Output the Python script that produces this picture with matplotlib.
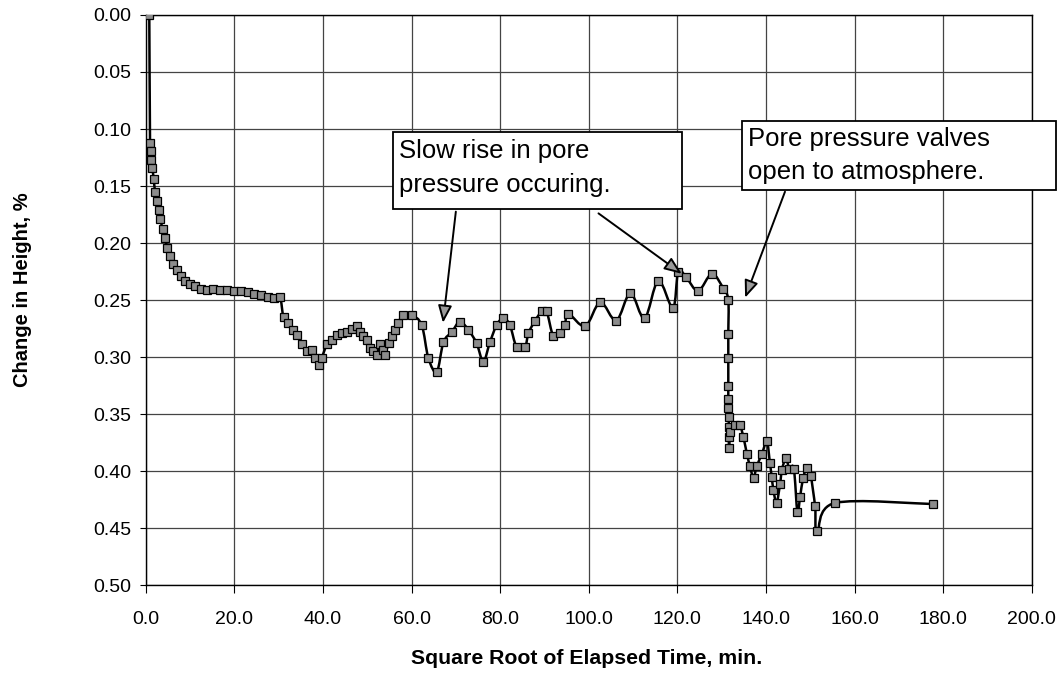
"""
Consolidation plot: change in specimen height against square root of time.
"""

import numpy as np
import matplotlib
matplotlib.use("Agg")
import matplotlib.pyplot as plt
from matplotlib.path import Path
from matplotlib.patches import PathPatch, Rectangle

plt.rcParams["font.family"] = ["Liberation Sans", "DejaVu Sans"]

# Readings taken off the original chart (sqrt of minutes, % change in height)
sqrt_time = [
    0.8, 0.97, 1.1, 1.3, 1.5, 1.8, 2.1, 2.5, 2.9, 3.3, 3.8, 4.3, 4.9, 5.5,
    6.2, 7.0, 7.9, 8.9, 10.0, 11.1, 12.4, 13.8, 15.2, 16.8, 18.4, 20.0, 21.5,
    23.0, 24.5, 26.0, 27.5, 29.0, 30.3, 31.1, 32.2, 33.3, 34.1, 35.2, 36.3,
    37.5, 38.2, 39.0, 39.7, 40.9, 42.0, 43.1, 44.2, 45.4, 46.5, 47.6, 48.4,
    49.1, 49.9, 50.6, 51.4, 52.1, 52.9, 53.6, 54.0, 54.8, 55.5, 56.3, 57.0,
    58.1, 60.0, 62.3, 63.8, 65.7, 67.2, 69.1, 70.9, 72.8, 74.7, 76.2, 77.7,
    79.2, 80.7, 82.2, 83.7, 85.6, 86.4, 87.9, 89.4, 90.5, 92.0, 93.5, 94.6,
    95.4, 99.2, 102.6, 106.2, 109.4, 112.6, 115.7, 119.0, 120.2, 122.0,
    124.7, 127.8, 130.4, 131.5, 131.5, 131.5, 131.5, 131.5, 131.5, 131.6,
    131.6, 131.6, 131.7, 131.9, 133.0, 134.1, 134.9, 135.7, 136.4, 137.2,
    137.9, 139.1, 140.2, 140.9, 141.3, 141.7, 142.4, 143.2, 143.6, 144.5,
    145.3, 146.3, 147.1, 147.7, 148.4, 149.3, 150.1, 151.1, 151.6, 155.6,
    177.8,
]
height_change = [
    0.000, 0.112, 0.119, 0.127, 0.134, 0.144, 0.155, 0.163, 0.171, 0.179,
    0.188, 0.196, 0.204, 0.211, 0.218, 0.224, 0.229, 0.233, 0.236, 0.238,
    0.240, 0.241, 0.240, 0.241, 0.241, 0.242, 0.242, 0.243, 0.245, 0.246,
    0.247, 0.248, 0.247, 0.265, 0.270, 0.276, 0.281, 0.289, 0.295, 0.294,
    0.301, 0.307, 0.301, 0.289, 0.285, 0.281, 0.279, 0.278, 0.275, 0.273,
    0.278, 0.282, 0.285, 0.292, 0.295, 0.298, 0.289, 0.294, 0.298, 0.288,
    0.282, 0.276, 0.270, 0.263, 0.263, 0.272, 0.301, 0.313, 0.287, 0.278,
    0.269, 0.276, 0.288, 0.304, 0.287, 0.272, 0.266, 0.272, 0.291, 0.291,
    0.279, 0.268, 0.260, 0.260, 0.282, 0.279, 0.272, 0.262, 0.273, 0.252,
    0.268, 0.244, 0.266, 0.233, 0.257, 0.225, 0.230, 0.242, 0.227, 0.240,
    0.250, 0.280, 0.301, 0.325, 0.337, 0.345, 0.353, 0.361, 0.370, 0.380,
    0.366, 0.360, 0.360, 0.370, 0.385, 0.396, 0.406, 0.396, 0.385, 0.374,
    0.393, 0.405, 0.417, 0.428, 0.411, 0.399, 0.389, 0.398, 0.398, 0.436,
    0.423, 0.406, 0.397, 0.404, 0.431, 0.453, 0.428, 0.429,
]

x_ticks = [0, 20, 40, 60, 80, 100, 120, 140, 160, 180, 200]
y_ticks = [0.00, 0.05, 0.10, 0.15, 0.20, 0.25, 0.30, 0.35, 0.40, 0.45, 0.50]

note_rise = ["Slow rise in pore", "pressure occuring."]
note_valves = ["Pore pressure valves", "open to atmosphere."]


def smooth_path(xs, ys):
    """Bezier path through the points, like Excel's smoothed line."""
    pts = np.column_stack([xs, ys]).astype(float)
    n = len(pts)
    verts = [pts[0]]
    codes = [Path.MOVETO]
    for i in range(n - 1):
        p0 = pts[i - 1] if i > 0 else pts[i]
        p1 = pts[i]
        p2 = pts[i + 1]
        p3 = pts[i + 2] if i + 2 < n else pts[i + 1]
        c1 = p1 + (p2 - p0) / 6.0
        c2 = p2 - (p3 - p1) / 6.0
        verts += [c1, c2, p2]
        codes += [Path.CURVE4] * 3
    return Path(verts, codes)


fig = plt.figure(figsize=(10.63, 6.88), dpi=100)
ax = fig.add_axes([0.1371, 0.1497, 0.8335, 0.8285])

ax.add_patch(PathPatch(smooth_path(sqrt_time, height_change), fill=False,
                       ec="black", lw=1.8, zorder=3))
ax.plot(sqrt_time, height_change, ls="none", marker="s", ms=5.5,
        mfc="#8c8c8c", mec="black", mew=0.9, zorder=4)

ax.set_xlim(0, 200)
ax.set_ylim(0.5, 0.0)
ax.set_xticks(x_ticks)
ax.set_yticks(y_ticks)
ax.set_xticklabels([f"{t:.1f}" for t in x_ticks])
ax.set_yticklabels([f"{t:.2f}" for t in y_ticks])
ax.tick_params(axis="both", labelsize=14, direction="out", color="black")
ax.tick_params(axis="x", length=6, pad=12.5)
ax.tick_params(axis="y", length=4.5, pad=6)
ax.grid(True, color="#444444", lw=0.9)
ax.set_axisbelow(True)
for s in ax.spines.values():
    s.set_linewidth(1.0)

ax.set_xlabel("Square Root of Elapsed Time, min.", fontsize=15.3,
              fontweight="bold")
ax.set_ylabel("Change in Height, %", fontsize=14.5, fontweight="bold")
ax.xaxis.set_label_coords(0.4977, -0.112)
ax.yaxis.set_label_coords(-0.128, 0.518)

# text boxes (they run past the right edge of the plot, as in the original)
ax.add_patch(Rectangle((55.9, 0.1024), 65.1, 0.068, fc="white", ec="black",
                       lw=1.3, zorder=5, clip_on=False))
ax.add_patch(Rectangle((134.7, 0.093), 70.8, 0.0605, fc="white", ec="black",
                       lw=1.3, zorder=5, clip_on=False))
for line, yb in zip(note_rise, [0.1257, 0.155]):
    ax.text(57.2, yb, line, fontsize=18.5, va="baseline", ha="left",
            zorder=6, clip_on=False)
for line, yb in zip(note_valves, [0.1149, 0.1441]):
    ax.text(136.0, yb, line, fontsize=18.5, va="baseline", ha="left",
            zorder=6, clip_on=False)

arrow_style = dict(arrowstyle="-|>,head_length=0.7,head_width=0.28",
                   fc="#9a9a9a", ec="black", lw=1.4, mutation_scale=15,
                   shrinkA=0, shrinkB=0)
ax.annotate("", xy=(67.1, 0.270), xytext=(70.0, 0.1725),
            arrowprops=arrow_style, zorder=6)
ax.annotate("", xy=(121.0, 0.227), xytext=(102.2, 0.174),
            arrowprops=arrow_style, zorder=6)
ax.annotate("", xy=(135.3, 0.248), xytext=(144.3, 0.155),
            arrowprops=arrow_style, zorder=6)

fig.savefig("out.png", dpi=100)
